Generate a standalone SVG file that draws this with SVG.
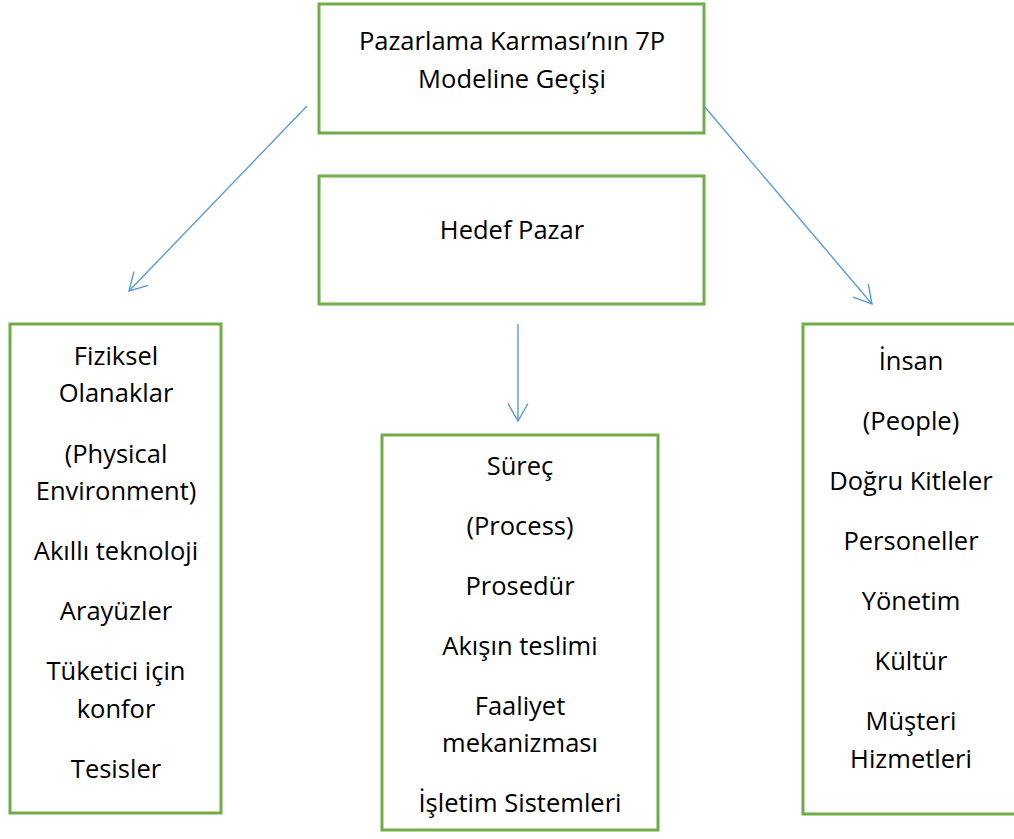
<svg xmlns="http://www.w3.org/2000/svg" width="1014" height="839" viewBox="0 0 1014 839">
<style>
.box{fill:#ffffff;stroke:#70AD47;stroke-width:3}
.t{font-family:"Open Sans","Liberation Sans",sans-serif;font-size:25.5px;fill:#000;text-anchor:middle}
.c{stroke:#5B9BD5;stroke-width:1.4;fill:none}
</style>
<defs>
<marker id="ah" markerUnits="userSpaceOnUse" markerWidth="24" markerHeight="26" refX="19" refY="11" orient="auto" viewBox="0 0 24 26">
<path d="M1.5,1 L19,11 L1.5,21" fill="none" stroke="#5B9BD5" stroke-width="1.4"/>
</marker>
</defs>
<rect width="1014" height="839" fill="#ffffff"/>
<g id="top">
<rect class="box" x="319" y="4" width="385" height="129"/>
<text class="t" x="512" y="50">Pazarlama Karması’nın 7P</text>
<text class="t" x="512" y="88">Modeline Geçişi</text>
</g>
<g id="hedef">
<rect class="box" x="319" y="176" width="385" height="128"/>
<text class="t" x="512" y="239">Hedef Pazar</text>
</g>
<g id="fiziksel">
<rect class="box" x="10" y="324" width="211" height="489"/>
<text class="t" x="116" y="365">Fiziksel</text>
<text class="t" x="116" y="402">Olanaklar</text>
<text class="t" x="116" y="463">(Physical</text>
<text class="t" x="116" y="500">Environment)</text>
<text class="t" x="116" y="560">Akıllı teknoloji</text>
<text class="t" x="116" y="620">Arayüzler</text>
<text class="t" x="116" y="680">Tüketici için</text>
<text class="t" x="116" y="718">konfor</text>
<text class="t" x="116" y="778">Tesisler</text>
</g>
<g id="surec">
<rect class="box" x="382" y="435" width="276" height="395"/>
<text class="t" x="520" y="475">Süreç</text>
<text class="t" x="520" y="535">(Process)</text>
<text class="t" x="520" y="595">Prosedür</text>
<text class="t" x="520" y="655">Akışın teslimi</text>
<text class="t" x="520" y="715">Faaliyet</text>
<text class="t" x="520" y="752">mekanizması</text>
<text class="t" x="520" y="812">İşletim Sistemleri</text>
</g>
<g id="insan">
<rect class="box" x="803" y="324" width="216" height="490"/>
<text class="t" x="911" y="370">İnsan</text>
<text class="t" x="911" y="430">(People)</text>
<text class="t" x="911" y="490">Doğru Kitleler</text>
<text class="t" x="911" y="550">Personeller</text>
<text class="t" x="911" y="610">Yönetim</text>
<text class="t" x="911" y="670">Kültür</text>
<text class="t" x="911" y="730">Müşteri</text>
<text class="t" x="911" y="768">Hizmetleri</text>
</g>
<g id="connectors">
<line class="c" x1="307" y1="106" x2="129" y2="291" marker-end="url(#ah)"/>
<line class="c" x1="704" y1="106" x2="872" y2="304" marker-end="url(#ah)"/>
<line class="c" x1="518" y1="324" x2="518" y2="421" marker-end="url(#ah)"/>
</g>
</svg>
